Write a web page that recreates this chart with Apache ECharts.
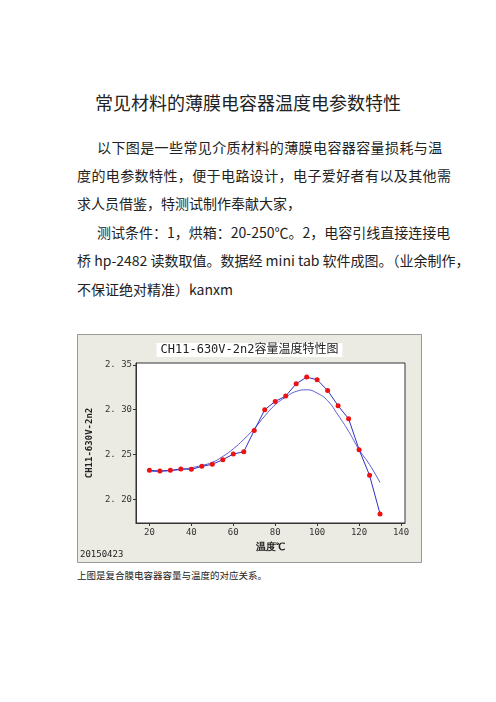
<!DOCTYPE html>
<html><head><meta charset="utf-8">
<script src="https://cdn.jsdelivr.net/npm/echarts@6/dist/echarts.min.js"></script>
<style>
body{margin:0;width:496px;height:702px;background:#fff;position:relative;font-family:"Noto Sans CJK SC",sans-serif;color:#222;}
.t{position:absolute;left:0;width:496px;top:89px;text-align:center;font-size:18px;}
.l{position:absolute;left:77px;font-size:14px;white-space:nowrap;line-height:20px;}
.c{position:absolute;left:77px;top:568px;font-size:9.5px;}
#ch{position:absolute;left:77px;top:334px;width:345px;height:229px;}
</style></head><body>
<div class="t">常见材料的薄膜电容器温度电参数特性</div>
<div class="l" style="top:137px;left:97px;letter-spacing:0.4px">以下图是一些常见介质材料的薄膜电容器容量损耗与温</div>
<div class="l" style="top:165px;letter-spacing:0.4px">度的电参数特性，便于电路设计，电子爱好者有以及其他需</div>
<div class="l" style="top:193px">求人员借鉴，特测试制作奉献大家，</div>
<div class="l" style="top:222px;left:97px">测试条件：1，烘箱：20-250℃。2，电容引线直接连接电</div>
<div class="l" style="top:250px">桥 hp-2482 读数取值。数据经 mini tab 软件成图。（业余制作，</div>
<div class="l" style="top:279px">不保证绝对精准）kanxm</div>
<div id="ch"></div>
<div class="c">上图是复合膜电容器容量与温度的对应关系。</div>
<script>
const temps=[20,25,30,35,40,45,50,55,60,65,70,75,80,85,90,95,100,105,110,115,120,125,130];
const measured=[2.2326,2.2319,2.2326,2.2341,2.2337,2.2370,2.2393,2.2444,2.2507,2.2533,2.2770,2.3000,2.3093,2.3152,2.3289,2.3363,2.3333,2.3215,2.3044,2.2900,2.2556,2.2270,2.1841];
const fitted=[2.2311,2.2315,2.2322,2.2335,2.2355,2.2380,2.2415,2.2480,2.2565,2.2670,2.2790,2.2930,2.3056,2.3140,2.3204,2.3222,2.3185,2.3100,2.2940,2.2760,2.2556,2.2390,2.2190];
const xTicks=[20,40,60,80,100,120,140];
const yTicks=[2.20,2.25,2.30,2.35];
const c=echarts.init(document.getElementById('ch'));
c.setOption({
 backgroundColor:'#ecebe3',
 title:{text:'CH11-630V-2n2容量温度特性图',left:'center',top:9,backgroundColor:'#fff',padding:[1,4],textStyle:{fontSize:12,fontWeight:'normal',color:'#222',fontFamily:'DejaVu Sans Mono, Noto Sans CJK SC'}},
 graphic:[{type:'rect',shape:{x:0.5,y:0.5,width:344,height:228},style:{fill:null,stroke:'#999'}},
  {type:'text',left:3,bottom:4,style:{text:'20150423',fontSize:9,fill:'#222',fontFamily:'DejaVu Sans Mono'}}],
 grid:{left:41,top:29,right:17,bottom:40,show:true,backgroundColor:'#fff',borderColor:'#333',borderWidth:1},
 xAxis:{type:'value',min:13.6,max:141.9,name:'温度℃',nameLocation:'middle',nameGap:18,
  nameTextStyle:{fontSize:10,fontWeight:'bold',color:'#222'},
  axisLine:{lineStyle:{color:'#333'}},axisTick:{customValues:xTicks,length:3,lineStyle:{color:'#333'}},splitLine:{show:false},
  axisLabel:{fontSize:9,color:'#333',fontFamily:'DejaVu Sans Mono',customValues:xTicks,margin:5}},
 yAxis:{type:'value',min:2.174,max:2.352,name:'CH11-630V-2n2',nameLocation:'middle',nameGap:30,
  nameTextStyle:{fontSize:9,fontWeight:'bold',color:'#222',fontFamily:'DejaVu Sans Mono'},
  axisLine:{show:true,lineStyle:{color:'#333'}},splitLine:{show:false},
  axisTick:{customValues:yTicks,length:3},
  axisLabel:{customValues:yTicks,fontSize:9,color:'#333',fontFamily:'DejaVu Sans Mono',formatter:v=>v.toFixed(2).replace('.','. '),margin:4}},
 series:[
  {type:'line',data:temps.map((t,i)=>[t,fitted[i]]),smooth:true,symbol:'none',lineStyle:{color:'#5a5ad8',width:1},z:2},
  {type:'line',data:temps.map((t,i)=>[t,measured[i]]),symbol:'circle',symbolSize:5,itemStyle:{color:'#ee1111'},lineStyle:{color:'#3030c0',width:1},z:3}
 ]
});
</script></body></html>
